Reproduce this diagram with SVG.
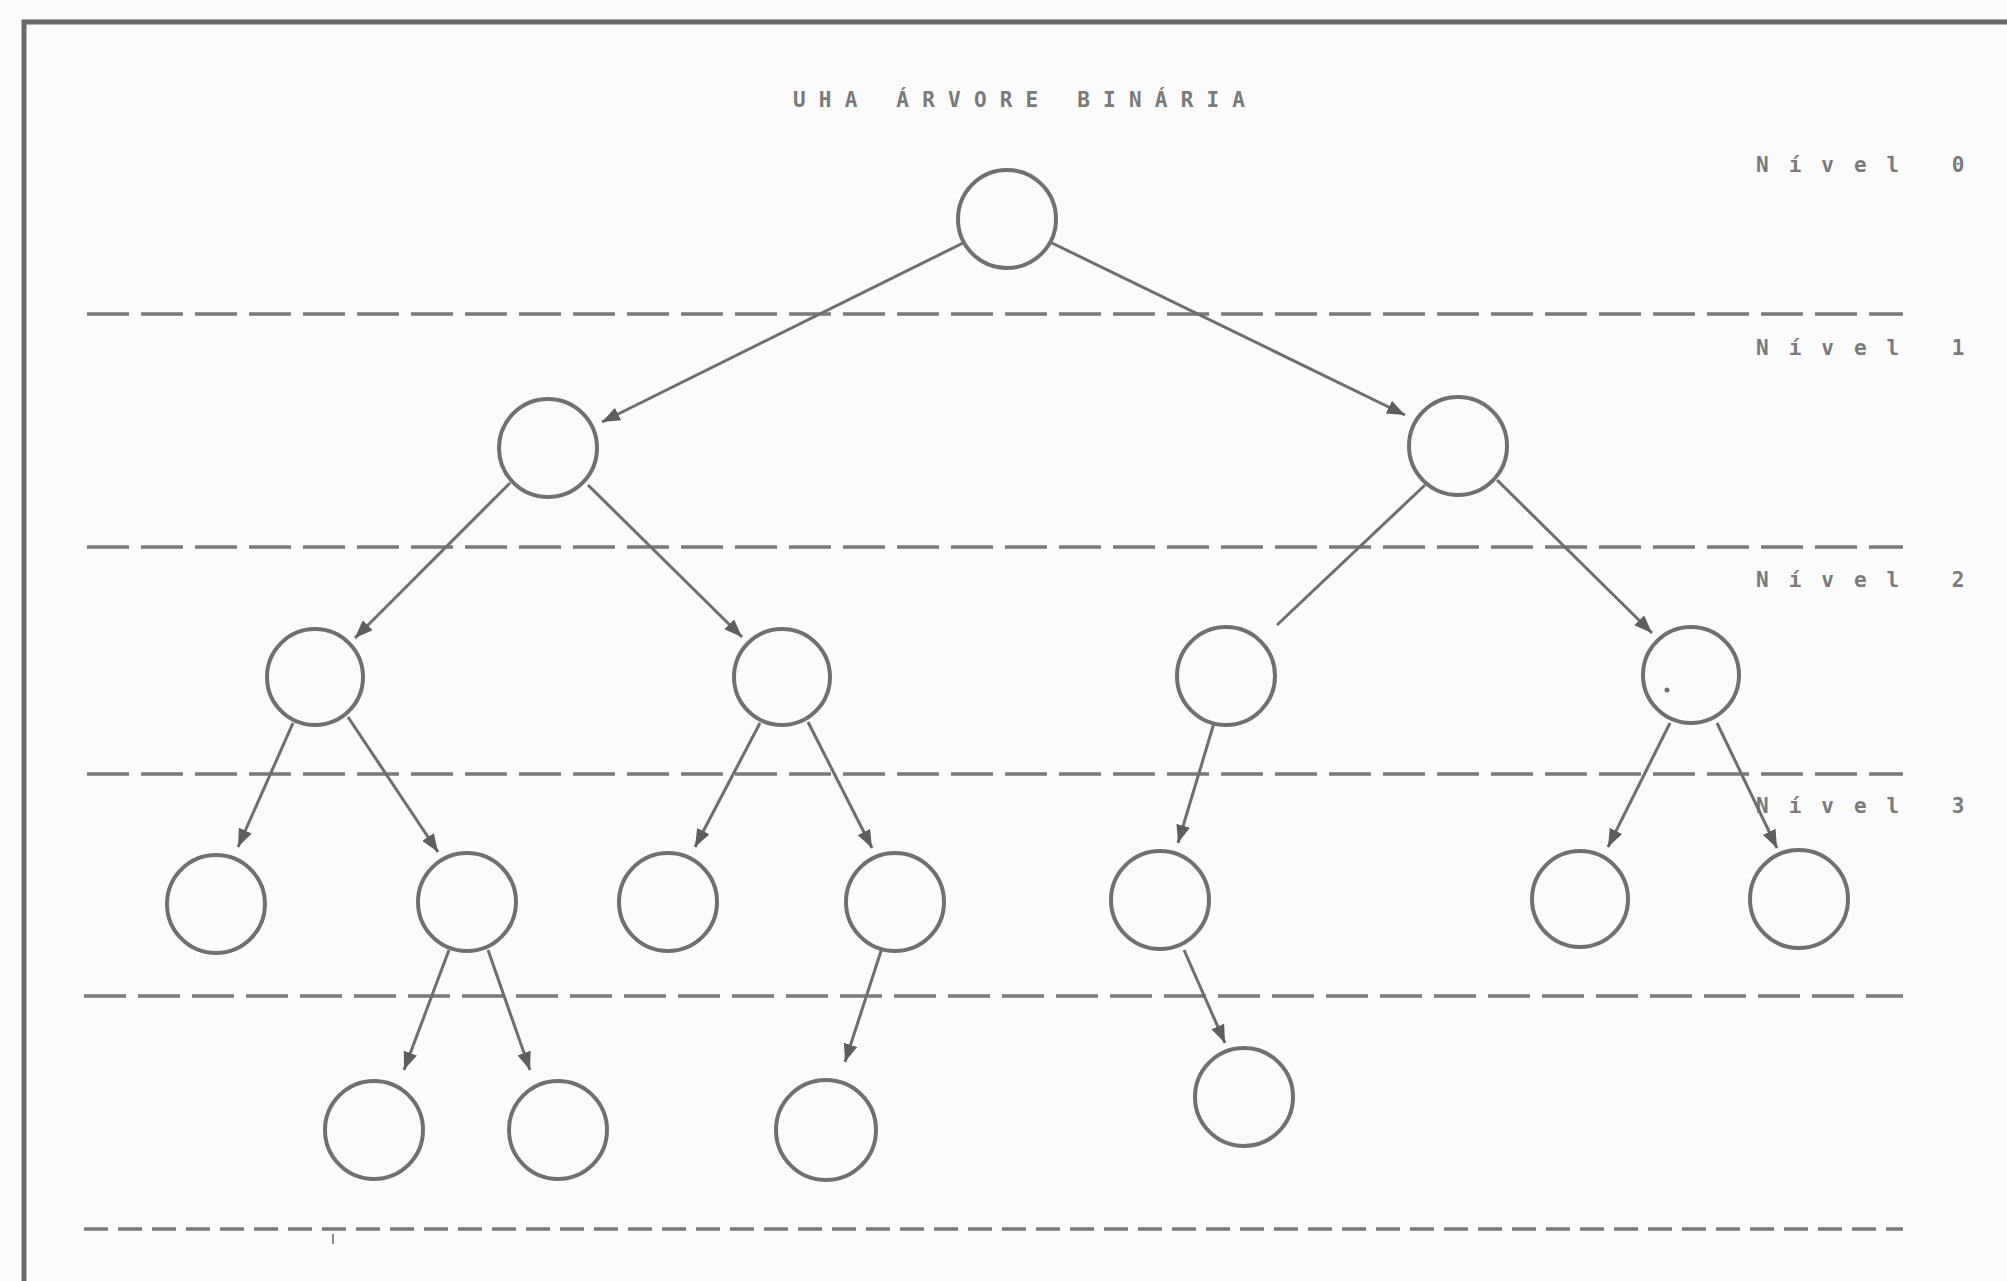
<svg xmlns="http://www.w3.org/2000/svg" width="2007" height="1281" viewBox="0 0 2007 1281">
<style>
  .node { fill: none; stroke: #707070; stroke-width: 4; }
  .edge { fill: none; stroke: #6e6e6e; stroke-width: 3; }
  .dash { fill: none; stroke: #7a7a7a; stroke-width: 3.5; stroke-dasharray: 42 12; }
  .dash2 { fill: none; stroke: #7a7a7a; stroke-width: 3.5; stroke-dasharray: 24 10; }
  .txt { font-family: "DejaVu Sans Mono", "Liberation Mono", monospace; font-weight: bold; font-size: 21px; fill: #7a7a7a; }
</style>
<defs>
  <marker id="arr" markerUnits="userSpaceOnUse" markerWidth="20" markerHeight="14" refX="18" refY="7" orient="auto">
    <path d="M0,0 L18,7 L0,14 z" fill="#5e5e5e"/>
  </marker>
</defs>
<rect width="2007" height="1281" fill="#fbfbfb"/>
<g id="frame">
  <polyline points="24,1281 24,22 2007,22" fill="none" stroke="#6a6a6a" stroke-width="5"/>
</g>
<g id="levels">
  <line class="dash" x1="87" y1="314" x2="1903" y2="314"/>
  <line class="dash" x1="87" y1="547" x2="1903" y2="547"/>
  <line class="dash" x1="87" y1="774" x2="1903" y2="774"/>
  <line class="dash" x1="84" y1="996" x2="1903" y2="996"/>
  <line class="dash2" x1="84" y1="1229" x2="1903" y2="1229"/>
  <line x1="333" y1="1234" x2="333" y2="1244" stroke="#8a8a8a" stroke-width="2"/>
</g>
<g id="texts">
  <text class="txt" x="793" y="107" letter-spacing="13.2">UHA ÁRVORE BINÁRIA</text>
  <text class="txt" x="1756" y="172" letter-spacing="20">Nível 0</text>
  <text class="txt" x="1756" y="355" letter-spacing="20">Nível 1</text>
  <text class="txt" x="1756" y="587" letter-spacing="20">Nível 2</text>
  <text class="txt" x="1756" y="813" letter-spacing="20">Nível 3</text>
</g>
<g id="connectors">
  <line class="edge" x1="963" y1="243" x2="602" y2="422" marker-end="url(#arr)"/>
  <line class="edge" x1="1052" y1="243" x2="1405" y2="415" marker-end="url(#arr)"/>
  <line class="edge" x1="510" y1="483" x2="355" y2="638" marker-end="url(#arr)"/>
  <line class="edge" x1="588" y1="485" x2="742" y2="637" marker-end="url(#arr)"/>
  <line class="edge" x1="1425" y1="485" x2="1277" y2="625"/>
  <line class="edge" x1="1497" y1="480" x2="1652" y2="633" marker-end="url(#arr)"/>
  <line class="edge" x1="293" y1="723" x2="238" y2="847" marker-end="url(#arr)"/>
  <line class="edge" x1="348" y1="717" x2="438" y2="852" marker-end="url(#arr)"/>
  <line class="edge" x1="760" y1="723" x2="695" y2="847" marker-end="url(#arr)"/>
  <line class="edge" x1="808" y1="722" x2="872" y2="848" marker-end="url(#arr)"/>
  <line class="edge" x1="1214" y1="723" x2="1178" y2="843" marker-end="url(#arr)"/>
  <line class="edge" x1="1670" y1="723" x2="1608" y2="847" marker-end="url(#arr)"/>
  <line class="edge" x1="1717" y1="723" x2="1777" y2="848" marker-end="url(#arr)"/>
  <line class="edge" x1="449" y1="950" x2="404" y2="1070" marker-end="url(#arr)"/>
  <line class="edge" x1="488" y1="950" x2="530" y2="1070" marker-end="url(#arr)"/>
  <line class="edge" x1="882" y1="948" x2="845" y2="1062" marker-end="url(#arr)"/>
  <line class="edge" x1="1184" y1="950" x2="1225" y2="1043" marker-end="url(#arr)"/>
</g>
<g id="n0"><circle class="node" cx="1007" cy="219" r="49"/></g>
<g id="n1a"><circle class="node" cx="548" cy="448" r="49"/></g>
<g id="n1b"><circle class="node" cx="1458" cy="446" r="49"/></g>
<g id="n2a"><circle class="node" cx="315" cy="677" r="48"/></g>
<g id="n2b"><circle class="node" cx="782" cy="677" r="48"/></g>
<g id="n2c"><circle class="node" cx="1226" cy="676" r="49"/></g>
<g id="n2d"><circle class="node" cx="1691" cy="675" r="48"/><circle cx="1667" cy="690" r="2.5" fill="#707070"/></g>
<g id="n3a"><circle class="node" cx="216" cy="904" r="49"/></g>
<g id="n3b"><circle class="node" cx="467" cy="902" r="49"/></g>
<g id="n3c"><circle class="node" cx="668" cy="902" r="49"/></g>
<g id="n3d"><circle class="node" cx="895" cy="902" r="49"/></g>
<g id="n3e"><circle class="node" cx="1160" cy="900" r="49"/></g>
<g id="n3f"><circle class="node" cx="1580" cy="899" r="48"/></g>
<g id="n3g"><circle class="node" cx="1799" cy="899" r="49"/></g>
<g id="n4a"><circle class="node" cx="374" cy="1130" r="49"/></g>
<g id="n4b"><circle class="node" cx="558" cy="1130" r="49"/></g>
<g id="n4c"><circle class="node" cx="826" cy="1130" r="50"/></g>
<g id="n4d"><circle class="node" cx="1244" cy="1097" r="49"/></g>
</svg>
